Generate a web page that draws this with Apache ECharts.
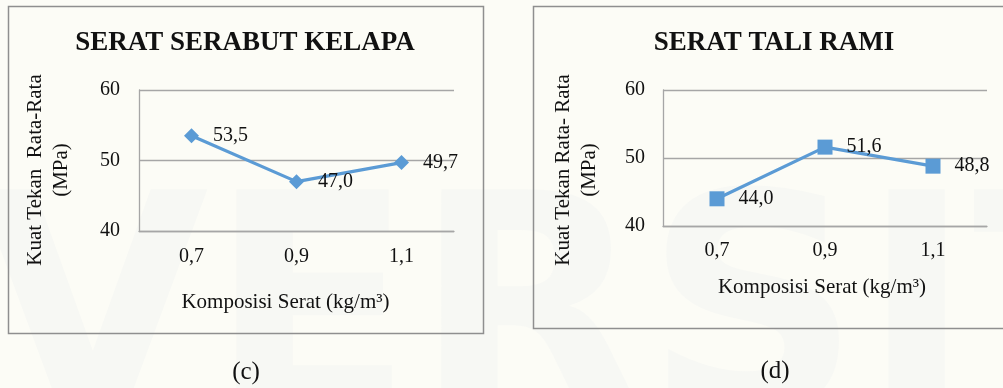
<!DOCTYPE html>
<html>
<head>
<meta charset="utf-8">
<script src="https://cdn.jsdelivr.net/npm/echarts@6/dist/echarts.min.js"></script>
<style>
  html, body { margin: 0; padding: 0; background: #fcfcf6; }
  #chart { width: 1003px; height: 388px; }
</style>
</head>
<body>
<div id="chart"></div>
<script>
// Composition categories (kg/m³) shared by both panels
const categories = ['0,7', '0,9', '1,1'];
// Average compressive strength (MPa)
const kelapaValues = [53.5, 47.0, 49.7];
const ramiValues = [44.0, 51.6, 48.8];
// Value axis range
const yMin = 40;
const yMax = 60;
const yStep = 10;

const SERIF = '"Liberation Serif", "Times New Roman", serif';
const BLUE = '#5b9bd5';
const GRID_GRAY = '#a6a6a6';

const fmt = v => v.toFixed(1).replace('.', ',');

function xAxisFor(gridIndex, labelMargin, nameGap, namePad) {
  return {
    type: 'category',
    gridIndex: gridIndex,
    data: categories,
    boundaryGap: true,
    axisTick: { show: false },
    axisLine: { show: true, lineStyle: { color: GRID_GRAY, width: 1.3 } },
    axisLabel: { margin: labelMargin, fontFamily: SERIF, fontSize: 20, color: '#111' },
    name: 'Komposisi Serat (kg/m³)',
    nameLocation: 'middle',
    nameGap: nameGap,
    nameTextStyle: { fontFamily: SERIF, fontSize: 21, color: '#111', padding: namePad }
  };
}

function yAxisFor(gridIndex, labelMargin) {
  return {
    type: 'value',
    gridIndex: gridIndex,
    min: yMin,
    max: yMax,
    interval: yStep,
    axisTick: { show: false },
    axisLine: { show: true, lineStyle: { color: GRID_GRAY, width: 1.3 } },
    splitLine: { show: true, lineStyle: { color: GRID_GRAY, width: 1.3 } },
    axisLabel: { margin: labelMargin, fontFamily: SERIF, fontSize: 20, color: '#111' }
  };
}

function lineSeries(idx, values, symbol, size) {
  return {
    type: 'line',
    xAxisIndex: idx,
    yAxisIndex: idx,
    data: values,
    symbol: symbol,
    symbolSize: size,
    lineStyle: { color: BLUE, width: 3.2 },
    itemStyle: { color: BLUE },
    label: {
      show: true,
      position: 'right',
      distance: 14,
      fontFamily: SERIF,
      fontSize: 20,
      color: '#111',
      formatter: p => fmt(p.value)
    },
    z: 5
  };
}

const textStyle = (t, x, y, size, weight, extra) => Object.assign({
  type: 'text', x: x, y: y,
  style: {
    text: t, fontFamily: SERIF, fontSize: size, fontWeight: weight,
    fill: '#111', textAlign: 'center', textVerticalAlign: 'middle', lineHeight: 26
  }
}, extra || {});

const chart = echarts.init(document.getElementById('chart'), null, { renderer: 'canvas' });

chart.setOption({
  backgroundColor: '#fcfcf6',
  animation: false,
  grid: [
    { left: 139, top: 90, width: 315, height: 141 },
    { left: 663, top: 90, width: 324, height: 136 }
  ],
  xAxis: [
    xAxisFor(0, 16, 61, [0, 22, 0, 0]),
    xAxisFor(1, 15, 51, [0, 6, 0, 0])
  ],
  yAxis: [
    yAxisFor(0, 19),
    yAxisFor(1, 18)
  ],
  series: [
    lineSeries(0, kelapaValues, 'diamond', 15),
    lineSeries(1, ramiValues, 'rect', 15)
  ],
  graphic: [
    // faint background lettering
    {
      type: 'text', x: 500, y: 330, z: -10, silent: true,
      style: {
        text: 'NIVERSITA', fontFamily: '"DejaVu Sans", sans-serif', fontWeight: 'bold',
        fontSize: 300, fill: 'rgba(175,190,215,0.06)',
        textAlign: 'center', textVerticalAlign: 'middle'
      }
    },
    // panel frames
    {
      type: 'rect', shape: { x: 8.5, y: 6.5, width: 475, height: 327 },
      style: { fill: 'none', stroke: '#8f8f8f', lineWidth: 1.5 }, z: 1
    },
    {
      type: 'rect', shape: { x: 533.5, y: 6.5, width: 480, height: 322 },
      style: { fill: 'none', stroke: '#8f8f8f', lineWidth: 1.5 }, z: 1
    },
    // panel titles
    textStyle('SERAT SERABUT KELAPA', 245, 43, 27, 'bold'),
    textStyle('SERAT TALI RAMI', 774, 43, 27, 'bold'),
    // value-axis titles
    Object.assign(textStyle('Kuat Tekan  Rata-Rata\n(MPa)', 48, 170, 21, 'normal'),
      { rotation: Math.PI / 2 }),
    Object.assign(textStyle('Kuat Tekan Rata- Rata\n(MPa)', 576, 170, 21, 'normal'),
      { rotation: Math.PI / 2 }),
    // panel captions
    textStyle('(c)', 246, 372, 25, 'normal'),
    textStyle('(d)', 775, 371, 25, 'normal')
  ]
});
</script>
</body>
</html>
